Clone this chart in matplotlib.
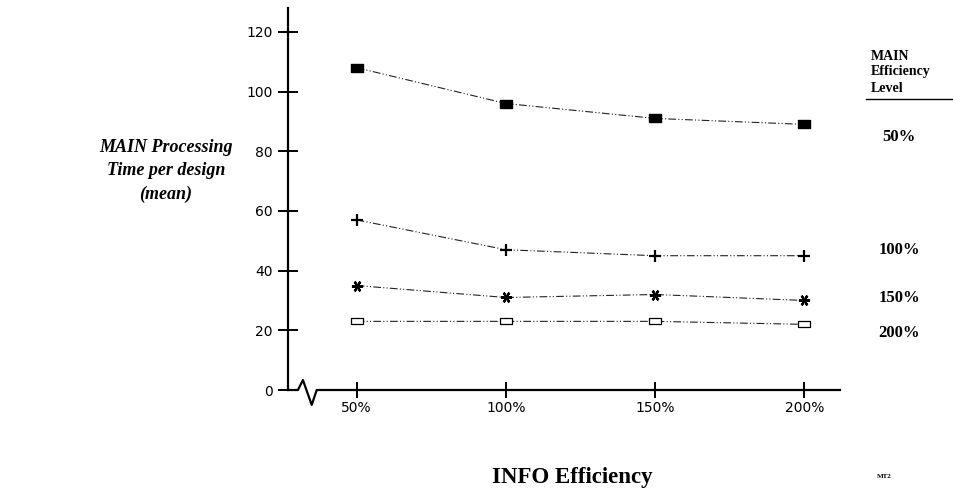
import matplotlib
matplotlib.use("Agg")
import matplotlib.pyplot as plt
from matplotlib.lines import Line2D

# INFO efficiency levels (x) and MAIN efficiency levels (series)
info_eff = [50, 100, 150, 200]
x_labels = ["50%", "100%", "150%", "200%"]
main_levels = ["50%", "100%", "150%", "200%"]

# Mean MAIN processing time per design
time_main50 = [108, 96, 91, 89]
time_main100 = [57, 47, 45, 45]
time_main150 = [35, 31, 32, 30]
time_main200 = [23, 23, 23, 22]

y_ticks = [0, 20, 40, 60, 80, 100, 120]

series = [time_main50, time_main100, time_main150, time_main200]

rect = [(-1.7, -1), (1.7, -1), (1.7, 1), (-1.7, 1), (-1.7, -1)]
styles = [
    dict(marker=rect, ms=9, mfc="black", mec="black", mew=1.0),
    dict(marker="+", ms=9, mfc="black", mec="black", mew=1.6),
    dict(marker=(6, 2, 90), ms=8, mfc="black", mec="black", mew=1.6),
    dict(marker=rect, ms=8, mfc="white", mec="black", mew=0.9),
]

fig = plt.figure(figsize=(9.54, 4.99), dpi=100)
ax = fig.add_axes([288 / 954, 1 - 390 / 499, (840 - 288) / 954, (390 - 8) / 499])

for vals, st in zip(series, styles):
    ax.plot(info_eff, vals, color="#222222", lw=0.8,
            linestyle=(0, (7, 2, 1, 2, 1, 2)), zorder=3, **st)

ax.set_xlim(27, 212)
ax.set_ylim(0, 128)

for s in ["top", "right", "bottom"]:
    ax.spines[s].set_visible(False)
ax.spines["left"].set_linewidth(1.6)

ax.set_xticks(info_eff)
ax.set_xticklabels(x_labels, fontsize=10, family="DejaVu Sans")
ax.set_yticks(y_ticks)
ax.set_yticklabels([str(v) for v in y_ticks], fontsize=10, family="DejaVu Sans")
ax.tick_params(axis="y", direction="inout", length=14, width=1.4, pad=4)
ax.tick_params(axis="x", direction="inout", length=12, width=1.4, pad=2)

# x axis baseline with a break zigzag near the origin
zx = [0.0, 0.018, 0.027, 0.043, 0.052, 1.0]
zy = [0.0, 0.0, 0.026, -0.039, 0.0, 0.0]
ax.add_line(Line2D(zx, zy, transform=ax.transAxes, color="black",
                   lw=1.6, clip_on=False))

# left axis title
fig.text(166 / 954, 1 - 171 / 499, "MAIN Processing\nTime per design\n(mean)",
         ha="center", va="center", family="Liberation Serif",
         fontweight="bold", fontstyle="italic", fontsize=13, linespacing=1.45)

# bottom axis title
fig.text(572 / 954, 1 - 477 / 499, "INFO Efficiency", ha="center", va="center",
         family="Liberation Serif", fontweight="bold", fontsize=16.5)
fig.text(884 / 954, 1 - 476 / 499, "MT2", ha="center", va="center",
         family="Liberation Serif", fontweight="bold", fontsize=5)

# series key on the right
fig.text(871 / 954, 1 - 72 / 499, "MAIN\nEfficiency\nLevel", ha="left",
         va="center", family="Liberation Serif", fontweight="bold",
         fontsize=10, linespacing=1.3)
fig.add_artist(Line2D([866 / 954, 954 / 954], [1 - 99 / 499, 1 - 99 / 499],
                      color="black", lw=1.0))
key_y = [137, 250, 298, 333]
for lvl, yp in zip(main_levels, key_y):
    fig.text(899 / 954, 1 - yp / 499, lvl, ha="center", va="center",
             family="Liberation Serif", fontweight="bold", fontsize=12)

fig.savefig("out.png", dpi=100)
